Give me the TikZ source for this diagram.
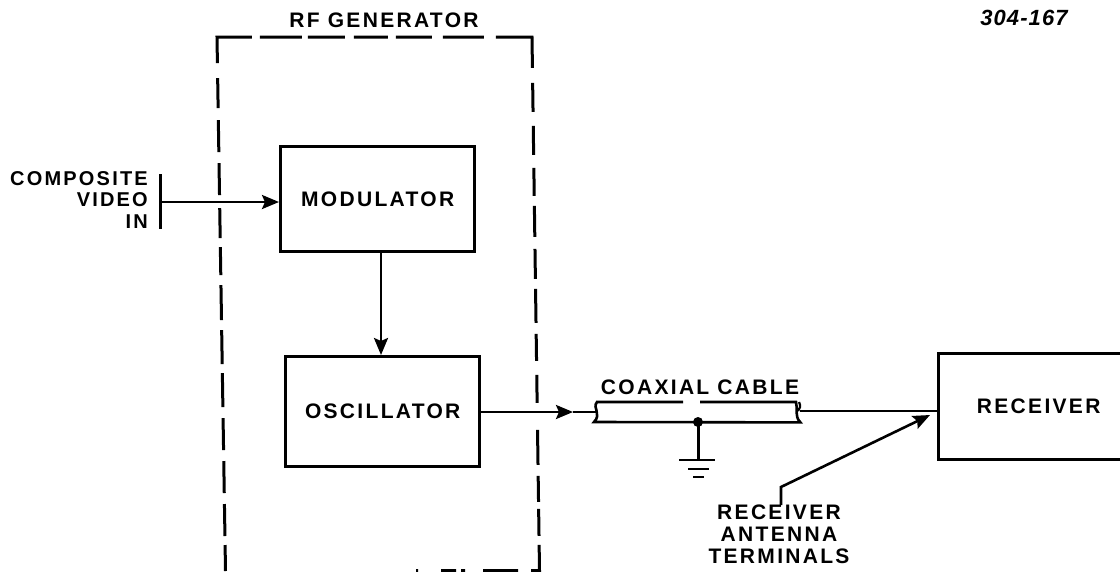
\documentclass[tikz,border=0pt]{standalone}
\usepackage{fontspec}
\setmainfont{Liberation Sans}
\newfontfamily\lbl[LetterSpace=11]{Liberation Sans Bold}
\newfontfamily\numf[LetterSpace=5]{Liberation Sans Bold Italic}
\usetikzlibrary{arrows.meta}
\tikzset{
 x=1pt,y=-1pt,
 blockbox/.style={draw=black,line width=3.4pt,anchor=north west,inner sep=0pt,font=\lbl\fontsize{21}{24}\selectfont},
 wire/.style={line width=2.6pt,black},
 flow/.style={wire,-{Stealth[length=17pt,width=14pt,inset=3pt]}},
 dashbox/.style={line width=3pt,black,dash pattern=on 26pt off 9pt on 32pt off 11pt on 32pt off 11pt on 32pt off 11pt on 34pt off 9pt on 34pt off 10pt on 35pt off 10pt on 28pt off 9pt on 30pt off 13pt on 32pt off 11pt on 32pt off 12pt on 30pt off 15pt on 61pt off 8pt on 42pt off 6pt on 37pt off 9pt on 34pt off 8pt on 36pt off 11pt on 41pt off 12pt on 67pt off 15pt on 29pt off 14pt on 29pt off 13pt on 28pt off 10pt on 31pt off 12pt on 30pt off 10pt on 34pt off 11pt on 27pt off 14pt on 28pt off 27pt on 35pt off 11pt on 26pt off 7pt on 27pt off 9pt on 34pt off 13pt on 35pt off 18pt on 4pt off 5pt on 15pt off 23pt on 2pt off 600pt},
 lab/.style={inner sep=0pt,font=\lbl\fontsize{21}{21.6}\selectfont,align=center},
 labr/.style={inner sep=0pt,font=\lbl\fontsize{20}{21.6}\selectfont,align=right,anchor=east}
}
\begin{document}
\begin{tikzpicture}
\useasboundingbox (0,0) rectangle (1120,571);
\clip (0,0) rectangle (1120,571);
% RF generator dashed outline
\draw[dashbox] (225.5,571) -- (217,37) -- (532,37) -- (539.5,570.5) -- (395,570.5);
\node[lab] (rfg) at (384,20) {RF GENERATOR};
\node[inner sep=0pt,font=\numf\fontsize{22}{24}\selectfont] (num) at (1024,18) {304-167};
% Blocks
\node[blockbox,minimum width=194pt,minimum height=105pt] (mod) at (279,145) {MODULATOR};
\node[blockbox,minimum width=194pt,minimum height=110pt] (osc) at (284,355) {OSCILLATOR};
\node[blockbox,minimum width=200pt,minimum height=106pt] (rcv) at (937,352) {RECEIVER};
% Input
\node[labr] (cv) at (148,200) {COMPOSITE\\VIDEO\\IN};
\coordinate (bart) at (160,174);
\coordinate (barb) at (160,229);
\coordinate (barm) at (160,202);
\draw[line width=3pt] (bart) -- (barb);
\draw[flow] (barm) -- (mod.west |- barm);
% Mod to osc
\coordinate (mo) at (381,0);
\draw[flow] (mod.south -| mo) -- (osc.north -| mo);
% Coax
\node[minimum width=203pt,minimum height=20pt,inner sep=0pt,anchor=north west] (coax) at (597,402) {};
\node[lab,anchor=south] (coaxl) at (700,395) {COAXIAL CABLE};
\coordinate (coaxin) at (596,412);
\coordinate (coaxout) at (800,411);
\coordinate (arr) at (573,412);
\draw[flow] (osc.east |- arr) -- (arr);
\draw[wire] (arr) -- (coaxin);
\draw[wire] (coaxout) -- (rcv.west |- coaxout);
\draw[line width=2.6pt] (683,402) -- (coax.north west) .. controls (592,408) and (602,414) .. (594,422) -- (coax.south east) .. controls (794,416) and (798,408) .. (796,402) -- (700,402);
\draw[line width=2.2pt] (799,402) .. controls (801,406) and (800,409) .. (798,411);
% Ground
\coordinate (g) at (698,422);
\coordinate (g0) at (698,460);
\fill (g) circle (5pt);
\draw[line width=3pt] (g) -- (g0);
\draw[line width=2.6pt] (679,460) -- (715,460);
\draw[line width=2.6pt] (688,469) -- (709,469);
\draw[line width=2.6pt] (693,477) -- (704,477);
% Antenna terminals
\node[lab,anchor=north] (ant) at (779,505) {RECEIVER\\ANTENNA\\TERMINALS};
\coordinate (bend) at (781,487);
\coordinate (tip) at (930,415);
\draw[flow] (ant.north -| bend) -- (bend) -- (tip);
\end{tikzpicture}
\end{document}
